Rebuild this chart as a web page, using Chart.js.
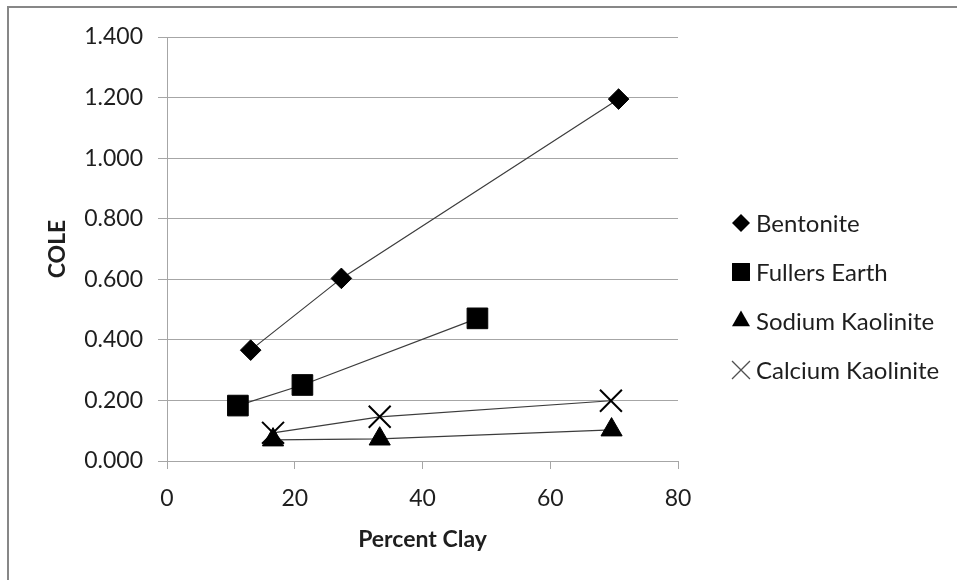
<!DOCTYPE html>
<html>
<head>
<meta charset="utf-8">
<script src="https://cdn.jsdelivr.net/npm/chart.js@4"></script>
<style>
  body { margin: 0; background: #fff; }
  #wrap { position: relative; width: 957px; height: 580px; overflow: hidden; }
  #frame { position: absolute; left: 7px; top: 6px; width: 1000px; height: 700px;
           border-left: 2px solid #878787; border-top: 2px solid #878787; pointer-events: none; }
</style>
</head>
<body>
<div id="wrap">
  <canvas id="cole" width="957" height="580"></canvas>
  <div id="frame"></div>
</div>
<script>
// percent clay (x) and COLE (y) for each clay
var bentoniteX = [13.1, 27.3, 70.7];
var bentoniteY = [0.366, 0.603, 1.195];

var fullersX = [11.1, 21.2, 48.6];
var fullersY = [0.183, 0.251, 0.471];

var sodiumX = [16.6, 33.3, 69.6];
var sodiumY = [0.070, 0.073, 0.103];

var calciumX = [16.6, 33.3, 69.5];
var calciumY = [0.093, 0.146, 0.199];

var seriesNames = ['Bentonite', 'Fullers Earth', 'Sodium Kaolinite', 'Calcium Kaolinite'];

var xTicks = [0, 20, 40, 60, 80];
var yTicks = [0, 0.2, 0.4, 0.6, 0.8, 1.0, 1.2, 1.4];

function toPoints(xs, ys) {
    return xs.map(function(x, i) {
        return {x: x, y: ys[i]};
    });
}

var gridGray = '#a6a6a6';
var textColor = '#1e1e1e';

function series(name, xs, ys, style, radius, bw) {
    return {
        label: name,
        data: toPoints(xs, ys),
        showLine: true,
        borderColor: '#3c3c3c',
        borderWidth: 1.2,
        pointStyle: style,
        pointRadius: radius,
        pointHoverRadius: radius,
        pointBackgroundColor: '#000',
        pointBorderColor: '#000',
        pointBorderWidth: bw
    };
}

// legend drawn beside the plot, markers sized like the excel ones
var legendRadius = {rectRot: 9, rect: 12.7, triangle: 10.4, crossRot: 12.7};

var sideLegend = {
    id: 'sideLegend',
    afterDraw: function(chart) {
        var ctx = chart.ctx;
        var area = chart.chartArea;
        ctx.save();
        ctx.font = '24px Lato';
        ctx.textAlign = 'left';
        ctx.textBaseline = 'middle';
        chart.data.datasets.forEach(function(ds, i) {
            var cx = area.right + 63;
            var cy = 223 + i * 49;
            var cross = ds.pointStyle === 'crossRot';
            ctx.fillStyle = '#000';
            ctx.strokeStyle = cross ? '#505050' : '#000';
            ctx.lineWidth = cross ? 1.3 : 0;
            Chart.helpers.drawPoint(ctx, {
                pointStyle: ds.pointStyle,
                radius: legendRadius[ds.pointStyle],
                rotation: 0,
                borderWidth: cross ? 1.3 : 0
            }, cx, cy);
            ctx.fillStyle = textColor;
            ctx.fillText(ds.label, cx + 15, cy + 1);
        });
        ctx.restore();
    }
};

var myChart = new Chart(document.getElementById('cole'), {
    type: 'scatter',
    data: {
        datasets: [
            series(seriesNames[0], bentoniteX, bentoniteY, 'rectRot', 10.3, 1),
            series(seriesNames[1], fullersX, fullersY, 'rect', 14.6, 1),
            series(seriesNames[2], sodiumX, sodiumY, 'triangle', 12.2, 1),
            series(seriesNames[3], calciumX, calciumY, 'crossRot', 15.5, 2)
        ]
    },
    plugins: [sideLegend],
    options: {
        responsive: false,
        devicePixelRatio: 1,
        animation: false,
        layout: {
            padding: {left: 0, top: 37, right: 279, bottom: 0}
        },
        plugins: {
            legend: {display: false},
            tooltip: {enabled: false}
        },
        scales: {
            x: {
                type: 'linear',
                min: 0,
                max: 80,
                afterBuildTicks: function(scale) {
                    scale.ticks = xTicks.map(function(v) { return {value: v}; });
                },
                afterFit: function(scale) { scale.height = 119; },
                grid: {
                    drawOnChartArea: false,
                    color: gridGray,
                    tickLength: 8
                },
                border: {color: gridGray, width: 1},
                ticks: {
                    color: textColor,
                    font: {family: 'Lato', size: 23},
                    padding: 16,
                    maxRotation: 0
                },
                title: {
                    display: true,
                    text: 'Percent Clay',
                    color: textColor,
                    font: {family: 'Lato', size: 23, weight: 'bold'},
                    padding: {top: 0, bottom: 27}
                }
            },
            y: {
                type: 'linear',
                min: 0,
                max: 1.4,
                afterBuildTicks: function(scale) {
                    scale.ticks = yTicks.map(function(v) { return {value: v}; });
                },
                afterFit: function(scale) { scale.width = 167; },
                grid: {
                    color: gridGray,
                    tickLength: 9
                },
                border: {color: gridGray, width: 1},
                ticks: {
                    color: textColor,
                    font: {family: 'Lato', size: 23},
                    padding: 15,
                    callback: function(v) { return Number(v).toFixed(3); }
                },
                title: {
                    display: true,
                    text: 'COLE',
                    color: textColor,
                    font: {family: 'Lato', size: 23, weight: 'bold'},
                    padding: {top: 44, bottom: 0}
                }
            }
        }
    }
});
</script>
</body>
</html>
